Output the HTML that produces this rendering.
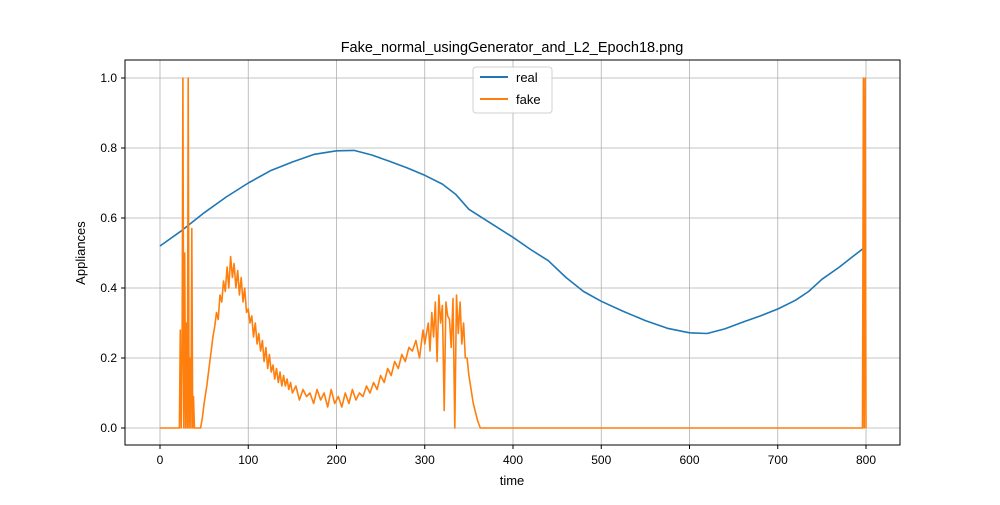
<!DOCTYPE html>
<html><head><meta charset="utf-8"><style>
body{margin:0;background:#fff;font-family:"Liberation Sans",sans-serif}
svg text{font-family:"Liberation Sans",sans-serif;fill:#000}
</style></head><body>
<svg width="1000" height="500" id="c">
<rect width="1000" height="500" fill="#fff"/>
<text x="512" y="52" font-size="14.5" text-anchor="middle">Fake_normal_usingGenerator_and_L2_Epoch18.png</text>
<g id="grid"></g><g id="ticks"></g><g id="lines"></g>
<rect x="125" y="60" width="775" height="385" fill="none" stroke="#000" stroke-width="1"/>
<text x="512" y="485" font-size="13" text-anchor="middle">time</text>
<text x="85" y="253" font-size="13" text-anchor="middle" transform="rotate(-90 85 253)">Appliances</text>
<g>
<rect x="473" y="67" width="79" height="46" rx="3" fill="#fff" stroke="#ccc" opacity="0.9"/>
<line x1="480" y1="77" x2="508" y2="77" stroke="#1f77b4" stroke-width="2"/>
<text x="516" y="82" font-size="13">real</text>
<line x1="480" y1="99" x2="508" y2="99" stroke="#ff7f0e" stroke-width="2"/>
<text x="516" y="104" font-size="13">fake</text>
</g>
</svg>
<script>
const xTicks=[0,100,200,300,400,500,600,700,800];
const yTicks=[0.0,0.2,0.4,0.6,0.8,1.0];
const realX=[0,25,50,75,100,125,150,175,200,220,240,260,280,300,320,335,350,375,400,420,440,460,480,500,525,550,575,600,620,640,660,680,700,720,735,750,770,785,798];
const realY=[0.52,0.565,0.615,0.66,0.70,0.735,0.76,0.782,0.792,0.793,0.78,0.762,0.743,0.722,0.697,0.668,0.625,0.585,0.545,0.51,0.478,0.43,0.39,0.362,0.333,0.307,0.285,0.272,0.27,0.283,0.302,0.32,0.34,0.365,0.39,0.425,0.46,0.49,0.515];
const fakeX=[0,22,23,24,25,26,27,28,29,30,31,32,33,34,35,36,37,38,39,46,48,50,53,56,58,60,62,64,66,68,70,72,74,76,78,80,82,84,86,88,90,92,94,96,98,100,102,104,106,108,110,112,114,116,118,120,122,124,126,128,130,132,134,136,138,140,142,144,146,148,150,154,158,162,166,170,174,178,182,186,190,194,198,202,206,210,214,218,222,226,230,234,238,242,246,250,254,258,262,266,270,274,278,282,286,290,294,298,300,302,304,306,308,310,312,314,316,318,320,322,324,326,328,330,332,334,336,338,340,342,344,346,348,350,355,360,363,400,796,797,798,799,800];
const fakeY=[0,0,0.28,0,0.2,1.0,0,0.5,0,0.3,0,1.0,0,0.2,0,0.57,0,0.09,0,0,0.03,0.07,0.12,0.18,0.22,0.26,0.29,0.33,0.31,0.38,0.36,0.42,0.39,0.46,0.40,0.49,0.43,0.47,0.40,0.45,0.38,0.43,0.36,0.40,0.33,0.34,0.30,0.32,0.26,0.30,0.24,0.27,0.22,0.25,0.19,0.23,0.17,0.21,0.16,0.18,0.14,0.17,0.13,0.16,0.12,0.15,0.12,0.14,0.11,0.13,0.10,0.12,0.08,0.11,0.09,0.10,0.07,0.11,0.08,0.10,0.06,0.11,0.07,0.09,0.06,0.10,0.07,0.11,0.08,0.10,0.09,0.12,0.10,0.13,0.11,0.15,0.13,0.17,0.15,0.19,0.17,0.21,0.19,0.23,0.22,0.25,0.20,0.28,0.24,0.27,0.30,0.22,0.33,0.26,0.36,0.19,0.38,0.30,0.35,0.05,0.36,0.32,0.31,0.23,0.37,0.0,0.38,0.27,0.36,0.24,0.30,0.20,0.20,0.15,0.07,0.02,0,0,0,1.0,0,1.0,0];
const X=v=>160+v*0.8825, Y=v=>428-v*350;
const ns='http://www.w3.org/2000/svg';
const grid=document.getElementById('grid'),ticks=document.getElementById('ticks'),lines=document.getElementById('lines');
function mk(tag,attrs,parent){const e=document.createElementNS(ns,tag);for(const k in attrs)e.setAttribute(k,attrs[k]);parent.appendChild(e);return e;}
xTicks.forEach(t=>{const x=X(t);
const g=mk('line',{x1:x,x2:x,y1:60,y2:445,stroke:'#b0b0b0','stroke-width':0.8},grid);


mk('line',{x1:x,x2:x,y1:445,y2:449,stroke:'#000'},ticks);
const tx=mk('text',{x:x,y:464,'font-size':12,'text-anchor':'middle'},ticks);tx.textContent=t;

});
yTicks.forEach(t=>{const y=Y(t);
const g=mk('line',{x1:125,x2:900,y1:y,y2:y,stroke:'#b0b0b0','stroke-width':0.8},grid);


mk('line',{x1:121,x2:125,y1:y,y2:y,stroke:'#000'},ticks);
const tx=mk('text',{x:117,y:y+4,'font-size':12,'text-anchor':'end'},ticks);tx.textContent=t.toFixed(1);

});
function path(xs,ys,color,name){const d=xs.map((v,i)=>(i?'L':'M')+X(v).toFixed(1)+','+Y(ys[i]).toFixed(1)).join('');
const p=mk('path',{d:d,fill:'none',stroke:color,'stroke-width':1.6,'stroke-linejoin':'round'},lines);

}
path(realX,realY,'#1f77b4','real-line');
path(fakeX,fakeY,'#ff7f0e','fake-line');
</script>
</body></html>
